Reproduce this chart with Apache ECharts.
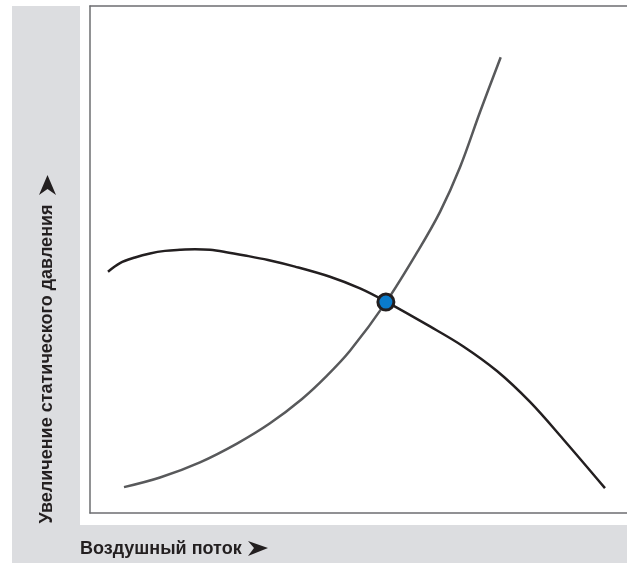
<!DOCTYPE html>
<html>
<head>
<meta charset="utf-8">
<script src="https://cdn.jsdelivr.net/npm/echarts@6.0.0/dist/echarts.min.js"></script>
<style>
  html, body { margin: 0; padding: 0; background: #fff; }
  #chart { width: 627px; height: 563px; }
</style>
</head>
<body>
<div id="chart"></div>
<script>
// кривая вентилятора (x, y в условных единицах 0..100)
const fanX = [3.35, 5.59, 8.38, 11.17, 13.97, 16.76, 19.55, 22.35, 25.14, 28.86, 33.15, 38.18, 44.69, 50.28, 55.12, 63.31, 69.46, 75.79, 81.94, 88.08, 95.9];
const fanY = [47.6, 49.3, 50.4, 51.2, 51.7, 51.9, 52.0, 51.9, 51.5, 50.8, 49.9, 48.6, 46.6, 44.3, 41.7, 36.8, 32.9, 28.0, 21.9, 14.6, 4.9];

// характеристика сети
const sysX = [6.33, 13.04, 20.48, 27.37, 33.52, 39.48, 43.95, 48.42, 55.07, 61.08, 65.18, 68.9, 72.63, 76.48];
const sysY = [5.1, 7.0, 10.0, 13.7, 17.7, 22.5, 26.9, 32.0, 41.5, 51.7, 59.4, 68.2, 79.1, 89.9];

// рабочая точка
const opPoint = [55.1, 41.6];

const xTitle = 'Воздушный поток';
const yTitle = 'Увеличение статического давления';

const pairs = (xs, ys) => xs.map((x, i) => [x, ys[i]]);

const chart = echarts.init(document.getElementById('chart'));

const frame = { show: true, lineStyle: { color: '#6d6e71', width: 1.5 } };
const hidden = { axisTick: { show: false }, axisLabel: { show: false }, splitLine: { show: false } };

const option = {
    animation: false,
    grid: { left: 90, right: 0, top: 6, bottom: 50 },
    xAxis: [
        Object.assign({ type: 'value', min: 0, max: 100, position: 'bottom', axisLine: frame }, hidden),
        Object.assign({ type: 'value', min: 0, max: 100, position: 'top', axisLine: frame }, hidden)
    ],
    yAxis: Object.assign({ type: 'value', min: 0, max: 100, axisLine: Object.assign({ onZero: false }, frame) }, hidden),
    graphic: [
        { type: 'rect', z: -10, shape: { x: 12, y: 6, width: 68, height: 557 }, style: { fill: '#dcdde0' } },
        { type: 'rect', z: -10, shape: { x: 12, y: 525, width: 615, height: 38 }, style: { fill: '#dcdde0' } },
        {
            type: 'text', x: 80, y: 549,
            style: { text: xTitle, fill: '#231f20', font: 'bold 18px "Liberation Sans", Arial, sans-serif', textVerticalAlign: 'middle' }
        },
        { type: 'polygon', shape: { points: [[268, 548], [248, 541], [254, 548], [248, 556]] }, style: { fill: '#231f20' } },
        {
            type: 'text', x: 47, y: 364, rotation: Math.PI / 2,
            style: { text: yTitle, fill: '#231f20', font: 'bold 18px "Liberation Sans", Arial, sans-serif', textAlign: 'center', textVerticalAlign: 'middle' }
        },
        { type: 'polygon', shape: { points: [[47.5, 175], [39, 195], [47.5, 189], [56, 195]] }, style: { fill: '#231f20' } }
    ],
    series: [
        {
            type: 'line', data: pairs(sysX, sysY), smooth: 0.35, symbol: 'none',
            lineStyle: { color: '#58595b', width: 2.5 }
        },
        {
            type: 'line', data: pairs(fanX, fanY), smooth: 0.35, symbol: 'none',
            lineStyle: { color: '#231f20', width: 2.5 }
        },
        {
            type: 'scatter', data: [opPoint], symbolSize: 16, z: 5,
            itemStyle: { color: '#0a7bcb', borderColor: '#231f20', borderWidth: 3, opacity: 1 }
        }
    ]
};

chart.setOption(option);
</script>
</body>
</html>
